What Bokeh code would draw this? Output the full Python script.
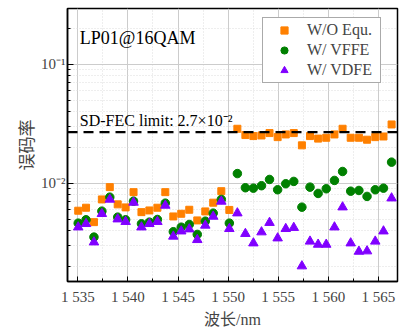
from bokeh.plotting import figure
from bokeh.models import (Range1d, FixedTicker, Span, Label, Legend, LegendItem,
                          CustomJSTickFormatter, ColumnDataSource)
from bokeh.embed import file_html
from bokeh.resources import INLINE

# ---------------- data ----------------
wavelength = [1535.04, 1535.82, 1536.61, 1537.40, 1538.19, 1538.98, 1539.77, 1540.56,
              1541.35, 1542.14, 1542.94, 1543.73, 1544.53, 1545.32, 1546.12, 1546.92,
              1547.72, 1548.51, 1549.32, 1550.12, 1550.92, 1551.72, 1552.52, 1553.33,
              1554.13, 1554.94, 1555.75, 1556.55, 1557.36, 1558.17, 1558.98, 1559.79,
              1560.61, 1561.42, 1562.23, 1563.05, 1563.86, 1564.68, 1565.50, 1566.31]

ber_wo_equ = [0.00590, 0.00625, 0.00473, 0.00734, 0.00931, 0.00667, 0.00629, 0.00845,
              0.00574, 0.00593, 0.00625, 0.00845, 0.00528, 0.00556, 0.00601, 0.00489,
              0.00582, 0.00689, 0.00861, 0.00599, 0.0288, 0.0255, 0.0250, 0.0253,
              0.0265, 0.0245, 0.0258, 0.0265, 0.0209, 0.0250, 0.0238, 0.0242,
              0.0258, 0.0288, 0.0242, 0.0242, 0.0233, 0.0245, 0.0248, 0.0313]

ber_vffe = [0.00464, 0.00495, 0.00354, 0.00585, 0.00767, 0.00521, 0.00495, 0.00710,
            0.00458, 0.00473, 0.00498, 0.00683, 0.00393, 0.00429, 0.00452, 0.00373,
            0.00482, 0.00563, 0.00734, 0.00464, 0.0121, 0.00920, 0.00913, 0.00957,
            0.0108, 0.00885, 0.00994, 0.0104, 0.00632, 0.00931, 0.00824, 0.00902,
            0.0106, 0.0126, 0.00861, 0.00873, 0.00778, 0.00885, 0.00913, 0.0151]

ber_vdfe = [0.00429, 0.00458, 0.00321, 0.00556, 0.00734, 0.00501, 0.00477, 0.00692,
            0.00429, 0.00458, 0.00477, 0.00653, 0.00359, 0.00397, 0.00413, 0.00336,
            0.00444, 0.00528, 0.00706, 0.00416, 0.00563, 0.00378, 0.00315, 0.00390,
            0.00468, 0.00347, 0.00416, 0.00425, 0.00202, 0.00326, 0.00307, 0.00307,
            0.00429, 0.00632, 0.00315, 0.00268, 0.00270, 0.00326, 0.00397, 0.00752]

series_names = ["W/O Equ.", "W/ VFFE", "W/ VDFE"]
fec_limit = 0.027
fec_text = "SD-FEC limit: 2.7×10⁻²"
panel_title = "LP01@16QAM"

x_ticks = [1535, 1540, 1545, 1550, 1555, 1560, 1565]
x_tick_labels = ["1 535", "1 540", "1 545", "1 550", "1 555", "1 560", "1 565"]
x_minor = [1532.5, 1537.5, 1542.5, 1547.5, 1552.5, 1557.5, 1562.5, 1567.5]

y_ticks = [0.01, 0.1]
y_tick_labels = ["10⁻²", "10⁻¹"]
y_minor = [0.002, 0.003, 0.004, 0.005, 0.006, 0.007, 0.008, 0.009,
           0.02, 0.03, 0.04, 0.05, 0.06, 0.07, 0.08, 0.09, 0.2, 0.3]

x_title = "波长/nm"
y_title = "误码率"

# ---------------- figure ----------------
SERIF = "Liberation Serif"
CJK = "Liberation Serif, Noto Sans CJK SC"

p = figure(width=400, height=330, y_axis_type="log",
           x_range=Range1d(1533.97, 1566.9), y_range=Range1d(0.0015, 0.295),
           output_backend="svg", toolbar_location=None,
           min_border_left=67, min_border_right=3, min_border_top=8, min_border_bottom=49)

p.outline_line_color = "black"
p.outline_line_width = 1.5
p.background_fill_color = "white"
p.border_fill_color = "white"

# grids
for g in (p.xgrid, p.ygrid):
    g.grid_line_color = "#cccccc"
    g.grid_line_width = 1
    g.minor_grid_line_color = "#dddddd"
    g.minor_grid_line_dash = "1 2"

# x axis
xa = p.xaxis[0]
xa.ticker = FixedTicker(ticks=x_ticks, minor_ticks=x_minor)
xa.formatter = CustomJSTickFormatter(args=dict(tvals=x_ticks, tlabels=x_tick_labels), code="""
    for (let i = 0; i < tvals.length; i++) { if (Math.abs(tick - tvals[i]) < 1e-6) return tlabels[i]; }
    return '';
""")
xa.axis_label = x_title
xa.axis_label_text_font = CJK
xa.axis_label_text_font_size = "16px"
xa.axis_label_text_font_style = "normal"
xa.axis_label_standoff = 3
xa.major_label_text_font = SERIF
xa.major_label_text_font_size = "15px"
xa.major_label_standoff = 7
xa.major_tick_in = 5
xa.major_tick_out = 0
xa.minor_tick_in = 3
xa.minor_tick_out = 0
xa.axis_line_width = 1.5

# y axis
ya = p.yaxis[0]
ya.ticker = FixedTicker(ticks=y_ticks, minor_ticks=y_minor)
ya.formatter = CustomJSTickFormatter(args=dict(tvals=y_ticks, tlabels=y_tick_labels), code="""
    for (let i = 0; i < tvals.length; i++) { if (Math.abs(Math.log10(tick / tvals[i])) < 0.01) return tlabels[i]; }
    return '';
""")
ya.axis_label = y_title
ya.axis_label_text_font = "Noto Sans CJK SC"
ya.axis_label_text_font_size = "17px"
ya.axis_label_text_font_style = "normal"
ya.axis_label_standoff = 0
ya.major_label_text_font = SERIF
ya.major_label_text_font_size = "15px"
ya.major_label_standoff = 2
ya.major_tick_in = 6
ya.major_tick_out = 0
ya.minor_tick_in = 3
ya.minor_tick_out = 0
ya.axis_line_width = 1.5

# FEC limit
p.add_layout(Span(location=fec_limit, dimension="width", line_color="black",
                  line_width=2.2, line_dash="10 6"))

# series
src = ColumnDataSource(dict(x=wavelength, a=ber_wo_equ, b=ber_vffe, c=ber_vdfe))
r1 = p.scatter("x", "a", source=src, marker="square", size=7,
               fill_color="#FF8000", line_color="#FF8000")
r2 = p.scatter("x", "b", source=src, marker="circle", size=8.5,
               fill_color="#008000", line_color="#008000")
r3 = p.scatter("x", "c", source=src, marker="triangle", size=9.5,
               fill_color="#8000FF", line_color="#8000FF")

legend = Legend(items=[LegendItem(label=series_names[0], renderers=[r1]),
                       LegendItem(label=series_names[1], renderers=[r2]),
                       LegendItem(label=series_names[2], renderers=[r3])],
                location=(195, 198), orientation="vertical",
                label_text_font=SERIF, label_text_font_size="16px",
                label_height=18, glyph_height=18, glyph_width=36,
                label_standoff=5, label_width=70, spacing=2, padding=3, margin=0,
                border_line_color="#555555", border_line_width=1,
                background_fill_color="white", background_fill_alpha=1)
p.add_layout(legend)

p.add_layout(Label(x=1535.2, y=0.168, text=panel_title, text_font=SERIF,
                   text_font_size="18px", text_baseline="alphabetic", text_color="black"))
p.add_layout(Label(x=1535.2, y=0.0335, text=fec_text, text_font=SERIF,
                   text_font_size="16px", text_baseline="alphabetic", text_color="black"))

open("out.html", "w").write(file_html(p, INLINE))
